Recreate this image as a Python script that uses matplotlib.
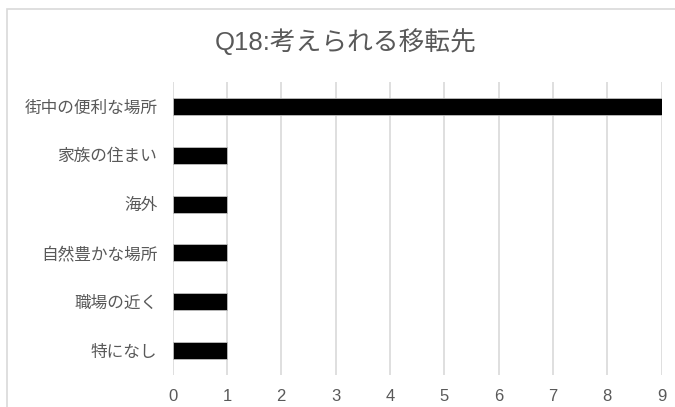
import matplotlib.pyplot as plt
from matplotlib.patches import Rectangle

plt.rcParams['font.family'] = ['Liberation Sans', 'Noto Sans CJK JP']

categories = ["街中の便利な場所", "家族の住まい", "海外", "自然豊かな場所", "職場の近く", "特になし"]
counts = [9, 1, 1, 1, 1, 1]
xticks = list(range(0, 10))

fig = plt.figure(figsize=(6.75, 4.07), dpi=100)
ax = fig.add_axes([0.2556, 0.0786, 0.7247, 0.7199])

# chart frame
fig.patches.append(Rectangle((7 / 675, -0.1), 1.2, 1 - 9 / 407 + 0.1,
                             transform=fig.transFigure, fill=False,
                             edgecolor="#d9d9d9", linewidth=1.2))

pos = list(range(len(categories)))
ax.barh(pos, counts, height=0.35, color="black", edgecolor="#bfbfbf",
        linewidth=0.6, zorder=3)
ax.set_yticks(pos)
ax.set_yticklabels(categories)
ax.set_ylim(len(categories) - 0.5, -0.5)

ax.set_xlim(0, 9)
ax.set_xticks(xticks)
ax.grid(axis="x", color="#d9d9d9", linewidth=1.2, zorder=0)
ax.set_axisbelow(True)

for s in ax.spines.values():
    s.set_visible(False)
ax.tick_params(axis="both", length=0, labelsize=12, colors="#595959")
ax.tick_params(axis="y", pad=11)
ax.tick_params(axis="x", pad=10)

fig.text(346 / 675, 1 - 42 / 407, "Q18:考えられる移転先", ha="center", va="center",
         fontsize=18.5, color="#595959")

fig.savefig("out.png", dpi=100)
